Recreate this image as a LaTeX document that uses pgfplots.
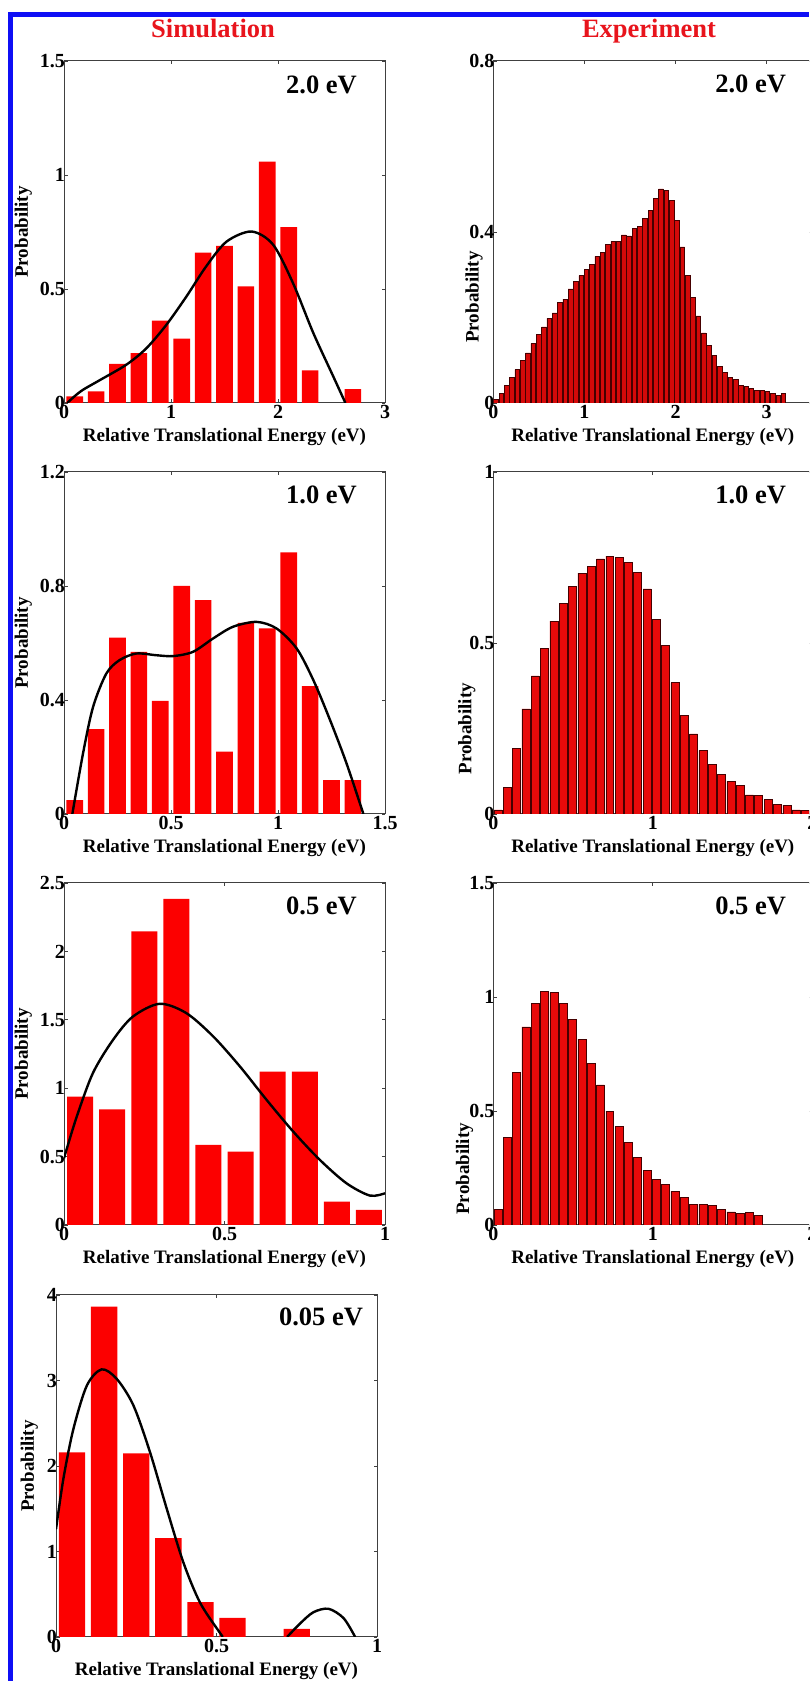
\documentclass[border=0pt]{standalone}
\usepackage{fontspec}
\setmainfont{Liberation Serif}
\usepackage{pgfplots}
\pgfplotsset{compat=1.18}

\definecolor{titlered}{RGB}{232,20,28}
\definecolor{framblue}{RGB}{15,15,245}
\definecolor{simred}{RGB}{252,0,0}
\definecolor{expred}{RGB}{232,10,10}
\definecolor{expedge}{RGB}{70,0,0}

\newcommand{\labfont}{\bfseries\fontsize{19}{22}\selectfont}
\newcommand{\tickfont}{\bfseries\fontsize{20}{23}\selectfont}
\newcommand{\bigfont}{\bfseries\fontsize{26.5}{30}\selectfont}

\pgfplotsset{
  panel/.style={
    scale only axis, height=342pt,
    axis line style={draw=black!75, line width=1pt},
    tick style={black!75, line width=0.9pt},
    tick align=inside, major tick length=3.5pt,
    ticklabel style={font=\tickfont},
    label style={font=\labfont},
    /pgf/number format/assume math mode=true,
    xlabel={Relative Translational Energy (eV)},
    ylabel={Probability},
    xlabel style={anchor=base, at={(axis description cs:0.5,-0.113)}},
    yticklabel style={xshift=4.5pt},
    xticklabel style={yshift=1pt},
    xmin=0, ymin=0,
  },
  sim/.style={panel, width=321pt,
    ylabel style={at={(axis description cs:-0.127,0.5)}, anchor=center}},
  expt/.style={panel, width=319pt},
  simbar/.style={ybar, fill=simred, draw=none},
  expbar/.style={ybar, bar width=0.05, fill=expred, draw=expedge, line width=0.5pt},
  fit/.style={black, line width=2.4pt, smooth, no marks},
}

\begin{document}
\begin{tikzpicture}
\useasboundingbox (0pt,0pt) rectangle (809pt,1681pt);
\clip (0pt,0pt) rectangle (809pt,1681pt);

% frame
\fill[framblue] (8.3pt,0pt) rectangle (13.3pt,1668.7pt);
\fill[framblue] (8.3pt,1664.3pt) rectangle (809pt,1668.7pt);

\node[font=\bigfont, text=titlered, anchor=base] at (213pt,1643pt) {Simulation};
\node[font=\bigfont, text=titlered, anchor=base] at (649pt,1643pt) {Experiment};

% ---------- Simulation 2.0 eV
\begin{axis}[sim, at={(64pt,1278pt)}, anchor=south west,
  xmax=3, ymax=1.5, xtick={0,1,2,3}, ytick={0,0.5,1,1.5}]
\addplot[simbar, bar width=0.156] coordinates {
  (0.1,0.029) (0.3,0.051) (0.5,0.171) (0.7,0.219) (0.9,0.361) (1.1,0.282)
  (1.3,0.660) (1.5,0.689) (1.7,0.511) (1.9,1.059) (2.1,0.771) (2.3,0.143)
  (2.7,0.061)};
\addplot[fit] coordinates {
  (0.03,0) (0.1,0.03) (0.178,0.058) (0.334,0.10) (0.583,0.168) (0.77,0.24)
  (0.957,0.343) (1.144,0.467) (1.33,0.60) (1.52,0.708) (1.753,0.752)
  (1.955,0.694) (2.14,0.526) (2.33,0.307) (2.516,0.117) (2.63,0)};
\node[font=\bigfont, anchor=base east, inner sep=0] at (rel axis cs:0.913,0.906) {2.0 eV};
\end{axis}

% ---------- Simulation 1.0 eV
\begin{axis}[sim, at={(64pt,867pt)}, anchor=south west,
  xmax=1.5, ymax=1.2, xtick={0,0.5,1,1.5}, ytick={0,0.4,0.8,1.2}]
\addplot[simbar, bar width=0.078] coordinates {
  (0.05,0.049) (0.15,0.298) (0.25,0.619) (0.35,0.569) (0.45,0.397) (0.55,0.800)
  (0.65,0.750) (0.75,0.219) (0.85,0.671) (0.95,0.651) (1.05,0.918) (1.15,0.449)
  (1.25,0.119) (1.35,0.119)};
\addplot[fit] coordinates {
  (0.039,0) (0.089,0.213) (0.136,0.376) (0.198,0.493) (0.26,0.54) (0.338,0.563)
  (0.432,0.557) (0.51,0.554) (0.603,0.569) (0.697,0.616) (0.79,0.657)
  (0.9,0.674) (0.993,0.651) (1.087,0.581) (1.165,0.47) (1.243,0.33)
  (1.32,0.178) (1.399,0)};
\node[font=\bigfont, anchor=base east, inner sep=0] at (rel axis cs:0.913,0.909) {1.0 eV};
\end{axis}

% ---------- Simulation 0.5 eV
\begin{axis}[sim, at={(64pt,456pt)}, anchor=south west,
  xmax=1, ymax=2.5, xtick={0,0.5,1}, ytick={0,0.5,1,1.5,2,2.5}]
\addplot[simbar, bar width=0.081] coordinates {
  (0.05,0.939) (0.15,0.846) (0.25,2.146) (0.35,2.383) (0.45,0.585)
  (0.55,0.537) (0.65,1.122) (0.75,1.122) (0.85,0.171) (0.95,0.11)};
\addplot[fit] coordinates {
  (0,0.488) (0.038,0.78) (0.09,1.11) (0.153,1.354) (0.215,1.524) (0.298,1.617)
  (0.381,1.549) (0.465,1.378) (0.548,1.159) (0.631,0.915) (0.714,0.683)
  (0.797,0.476) (0.88,0.305) (0.953,0.215) (1.0,0.232)};
\node[font=\bigfont, anchor=base east, inner sep=0] at (rel axis cs:0.913,0.909) {0.5 eV};
\end{axis}

% ---------- Simulation 0.05 eV
\begin{axis}[sim, at={(56pt,44pt)}, anchor=south west,
  xmax=1, ymax=4, xtick={0,0.5,1}, ytick={0,1,2,3,4},
  ylabel style={at={(axis description cs:-0.083,0.5)}, anchor=center}]
\addplot[simbar, bar width=0.082] coordinates {
  (0.05,2.16) (0.15,3.863) (0.25,2.149) (0.35,1.155) (0.45,0.407)
  (0.55,0.223) (0.75,0.094)};
\addplot[fit] coordinates {
  (0,1.26) (0.023,1.85) (0.054,2.43) (0.096,2.94) (0.142,3.13) (0.189,3.02)
  (0.241,2.71) (0.293,2.16) (0.345,1.5) (0.397,0.87) (0.449,0.4)
  (0.511,0.047) (0.52,0)};
\addplot[fit] coordinates {
  (0.72,0) (0.761,0.16) (0.802,0.29) (0.849,0.33) (0.896,0.22) (0.932,0)};
\node[font=\bigfont, anchor=base east, inner sep=0] at (rel axis cs:0.957,0.912) {0.05 eV};
\end{axis}

% ---------- Experiment 2.0 eV
\begin{axis}[expt, at={(493.3pt,1278pt)}, anchor=south west,
  xmax=3.5, ymax=0.8, xtick={0,1,2,3}, ytick={0,0.4,0.8},
  ylabel style={at={(axis description cs:-0.06,0.31)}, anchor=center}]
\addplot[expbar, fill=expred!92!black] coordinates {
  (0.029,0.008) (0.088,0.022) (0.146,0.041) (0.204,0.060) (0.263,0.078)
  (0.321,0.099) (0.380,0.117) (0.438,0.139) (0.496,0.160) (0.555,0.178)
  (0.613,0.198) (0.672,0.211) (0.730,0.235) (0.788,0.243) (0.847,0.267)
  (0.905,0.285) (0.964,0.298) (1.022,0.313) (1.080,0.324) (1.139,0.343)
  (1.197,0.352) (1.256,0.371) (1.314,0.378) (1.372,0.378) (1.431,0.393)
  (1.489,0.391) (1.548,0.409) (1.606,0.413) (1.664,0.431) (1.723,0.450)
  (1.781,0.478) (1.840,0.501) (1.898,0.497) (1.956,0.474) (2.015,0.427)
  (2.073,0.365) (2.132,0.299) (2.190,0.247) (2.248,0.204) (2.307,0.164)
  (2.365,0.135) (2.424,0.111) (2.482,0.086) (2.540,0.072) (2.599,0.060)
  (2.657,0.055) (2.716,0.042) (2.774,0.039) (2.832,0.034) (2.891,0.030)
  (2.949,0.029) (3.008,0.027) (3.066,0.023) (3.124,0.017) (3.183,0.022)};
\node[font=\bigfont, anchor=base east, inner sep=0] at (rel axis cs:0.918,0.909) {2.0 eV};
\end{axis}

% ---------- Experiment 1.0 eV
\begin{axis}[expt, at={(493.3pt,867pt)}, anchor=south west,
  xmax=2, ymax=1, xtick={0,1,2}, ytick={0,0.5,1},
  ylabel style={at={(axis description cs:-0.083,0.249)}, anchor=center}]
\addplot[expbar] coordinates {
  (0.029,0.012) (0.088,0.077) (0.146,0.192) (0.204,0.307) (0.263,0.404)
  (0.321,0.484) (0.380,0.564) (0.438,0.616) (0.496,0.665) (0.555,0.704)
  (0.613,0.723) (0.672,0.746) (0.730,0.754) (0.788,0.750) (0.847,0.735)
  (0.905,0.706) (0.964,0.658) (1.022,0.569) (1.080,0.492) (1.139,0.384)
  (1.197,0.288) (1.256,0.234) (1.314,0.185) (1.372,0.146) (1.431,0.116)
  (1.489,0.095) (1.548,0.083) (1.606,0.056) (1.664,0.054) (1.723,0.043)
  (1.781,0.029) (1.840,0.026) (1.898,0.012) (1.956,0.010)};
\node[font=\bigfont, anchor=base east, inner sep=0] at (rel axis cs:0.918,0.909) {1.0 eV};
\end{axis}

% ---------- Experiment 0.5 eV
\begin{axis}[expt, at={(493.3pt,456pt)}, anchor=south west,
  xmax=2, ymax=1.5, xtick={0,1,2}, ytick={0,0.5,1,1.5},
  ylabel style={at={(axis description cs:-0.09,0.164)}, anchor=center}]
\addplot[expbar] coordinates {
  (0.029,0.070) (0.088,0.384) (0.146,0.669) (0.204,0.869) (0.263,0.971)
  (0.321,1.023) (0.380,1.020) (0.438,0.971) (0.496,0.902) (0.555,0.815)
  (0.613,0.708) (0.672,0.615) (0.730,0.499) (0.788,0.431) (0.847,0.362)
  (0.905,0.296) (0.964,0.239) (1.022,0.201) (1.080,0.178) (1.139,0.147)
  (1.197,0.121) (1.256,0.092) (1.314,0.092) (1.372,0.085) (1.431,0.070)
  (1.489,0.058) (1.548,0.051) (1.606,0.055) (1.664,0.041)};
\node[font=\bigfont, anchor=base east, inner sep=0] at (rel axis cs:0.918,0.909) {0.5 eV};
\end{axis}
\end{tikzpicture}
\end{document}
